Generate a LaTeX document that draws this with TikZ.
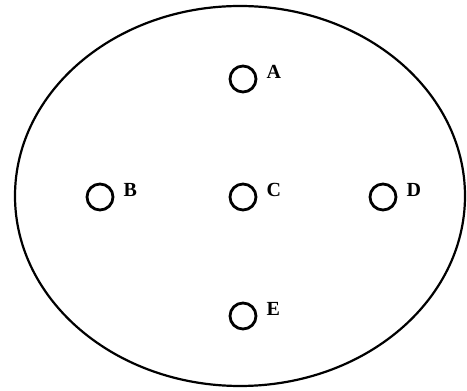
\documentclass[tikz,border=0pt]{standalone}
\usepackage{fontspec}
\setmainfont{Liberation Serif}
\usetikzlibrary{positioning}
\tikzset{
  rim/.style={line width=2.2pt},
  hole/.style={circle, draw, line width=2.8pt, minimum size=26pt, inner sep=0pt},
  tag/.style={font=\bfseries\fontsize{20}{20}\selectfont, inner sep=0pt, yshift=7pt},
}

\begin{document}
\begin{tikzpicture}[x=1pt, y=1pt, node distance=9pt]
  \useasboundingbox (0,0) rectangle (467,391);
  \draw[rim] (240,195) ellipse [x radius=225, y radius=190];
  % holes
  \node[hole] (a) at (243,312) {};
  \node[hole] (b) at (100,194) {};
  \node[hole] (c) at (243,194) {};
  \node[hole] (d) at (383,194) {};
  \node[hole] (e) at (243,75) {};
  % labels
  \node[tag, right=of a] (la) {A};
  \node[tag, right=of b] (lb) {B};
  \node[tag, right=of c] (lc) {C};
  \node[tag, right=of d] (ld) {D};
  \node[tag, right=of e] (le) {E};
\end{tikzpicture}
\end{document}
